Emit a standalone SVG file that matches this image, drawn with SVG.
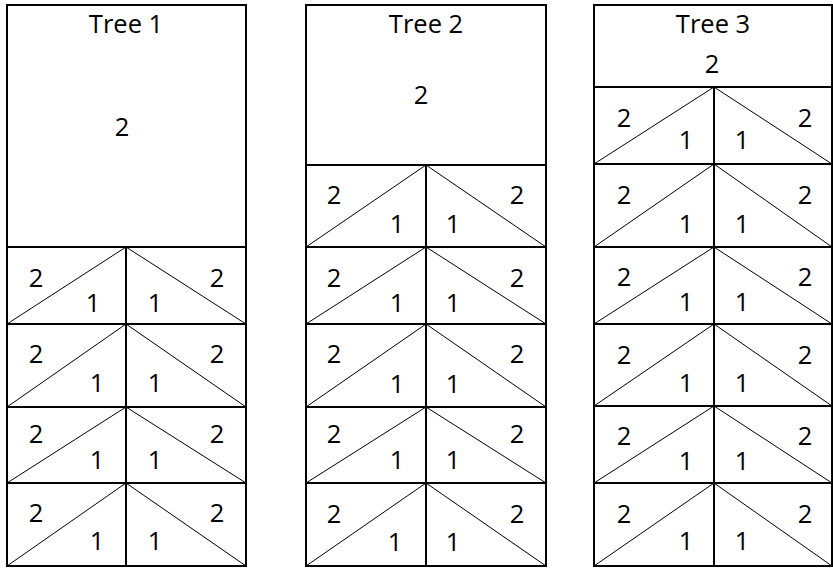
<svg xmlns="http://www.w3.org/2000/svg" width="833" height="568" viewBox="0 0 833 568">
<style>
.frame{fill:#fff;stroke:#000;stroke-width:2}
.line{stroke:#000;stroke-width:2;fill:none}
.diag{stroke:#000;stroke-width:1;fill:none}
text{font-family:"Open Sans","Liberation Sans",sans-serif;font-size:25.5px;fill:#000;text-anchor:middle}
</style>
<rect width="833" height="568" fill="#fff"/>

<g id="tree1">
  <rect class="frame" x="7" y="5" width="239" height="561"/>
  <text x="126" y="33">Tree 1</text>
  <text x="122" y="136">2</text>
  <g id="tree1-rows">
    <line class="line" x1="7" y1="247" x2="246" y2="247"/>
    <line class="line" x1="7" y1="324" x2="246" y2="324"/>
    <line class="line" x1="7" y1="407" x2="246" y2="407"/>
    <line class="line" x1="7" y1="483" x2="246" y2="483"/>
    <line class="line" x1="126" y1="247" x2="126" y2="566"/>
    <polyline class="diag" points="7,324 126,247 246,324"/>
    <polyline class="diag" points="7,407 126,324 246,407"/>
    <polyline class="diag" points="7,483 126,407 246,483"/>
    <polyline class="diag" points="7,566 126,483 246,566"/>
  </g>
  <g id="tree1-labels">
    <text x="36" y="287">2</text><text x="93" y="312">1</text><text x="155" y="312">1</text><text x="217" y="287">2</text>
    <text x="36" y="363">2</text><text x="97" y="392">1</text><text x="155" y="392">1</text><text x="217" y="363">2</text>
    <text x="36" y="443">2</text><text x="97" y="469">1</text><text x="155" y="469">1</text><text x="217" y="443">2</text>
    <text x="36" y="522">2</text><text x="97" y="550">1</text><text x="155" y="550">1</text><text x="217" y="522">2</text>
  </g>
</g>

<g id="tree2">
  <rect class="frame" x="306" y="5" width="240" height="561"/>
  <text x="426" y="33">Tree 2</text>
  <text x="421" y="104">2</text>
  <g id="tree2-rows">
    <line class="line" x1="306" y1="165" x2="546" y2="165"/>
    <line class="line" x1="306" y1="247" x2="546" y2="247"/>
    <line class="line" x1="306" y1="324" x2="546" y2="324"/>
    <line class="line" x1="306" y1="407" x2="546" y2="407"/>
    <line class="line" x1="306" y1="483" x2="546" y2="483"/>
    <line class="line" x1="426" y1="165" x2="426" y2="566"/>
    <polyline class="diag" points="306,247 426,165 546,247"/>
    <polyline class="diag" points="306,324 426,247 546,324"/>
    <polyline class="diag" points="306,407 426,324 546,407"/>
    <polyline class="diag" points="306,483 426,407 546,483"/>
    <polyline class="diag" points="306,566 426,483 546,566"/>
  </g>
  <g id="tree2-labels">
    <text x="334" y="204">2</text><text x="397" y="233">1</text><text x="453" y="233">1</text><text x="517" y="204">2</text>
    <text x="334" y="287">2</text><text x="397" y="312">1</text><text x="453" y="312">1</text><text x="517" y="287">2</text>
    <text x="334" y="363">2</text><text x="397" y="393">1</text><text x="453" y="393">1</text><text x="517" y="363">2</text>
    <text x="334" y="443">2</text><text x="397" y="469">1</text><text x="453" y="469">1</text><text x="517" y="443">2</text>
    <text x="334" y="523">2</text><text x="395" y="551">1</text><text x="453" y="551">1</text><text x="517" y="523">2</text>
  </g>
</g>

<g id="tree3">
  <rect class="frame" x="594" y="5" width="238" height="561"/>
  <text x="713" y="33">Tree 3</text>
  <text x="712" y="73">2</text>
  <g id="tree3-rows">
    <line class="line" x1="594" y1="87" x2="832" y2="87"/>
    <line class="line" x1="594" y1="164" x2="832" y2="164"/>
    <line class="line" x1="594" y1="247" x2="832" y2="247"/>
    <line class="line" x1="594" y1="324" x2="832" y2="324"/>
    <line class="line" x1="594" y1="406" x2="832" y2="406"/>
    <line class="line" x1="594" y1="483" x2="832" y2="483"/>
    <line class="line" x1="714" y1="87" x2="714" y2="566"/>
    <polyline class="diag" points="594,164 714,87 832,164"/>
    <polyline class="diag" points="594,247 714,164 832,247"/>
    <polyline class="diag" points="594,324 714,247 832,324"/>
    <polyline class="diag" points="594,406 714,324 832,406"/>
    <polyline class="diag" points="594,483 714,406 832,483"/>
    <polyline class="diag" points="594,566 714,483 832,566"/>
  </g>
  <g id="tree3-labels">
    <text x="624" y="127">2</text><text x="686" y="149">1</text><text x="742" y="149">1</text><text x="805" y="127">2</text>
    <text x="624" y="204">2</text><text x="686" y="233">1</text><text x="742" y="233">1</text><text x="805" y="204">2</text>
    <text x="624" y="286">2</text><text x="686" y="311">1</text><text x="742" y="311">1</text><text x="805" y="286">2</text>
    <text x="624" y="364">2</text><text x="686" y="392">1</text><text x="742" y="392">1</text><text x="805" y="364">2</text>
    <text x="624" y="445">2</text><text x="686" y="470">1</text><text x="742" y="470">1</text><text x="805" y="445">2</text>
    <text x="624" y="523">2</text><text x="686" y="550">1</text><text x="742" y="550">1</text><text x="805" y="523">2</text>
  </g>
</g>
</svg>
